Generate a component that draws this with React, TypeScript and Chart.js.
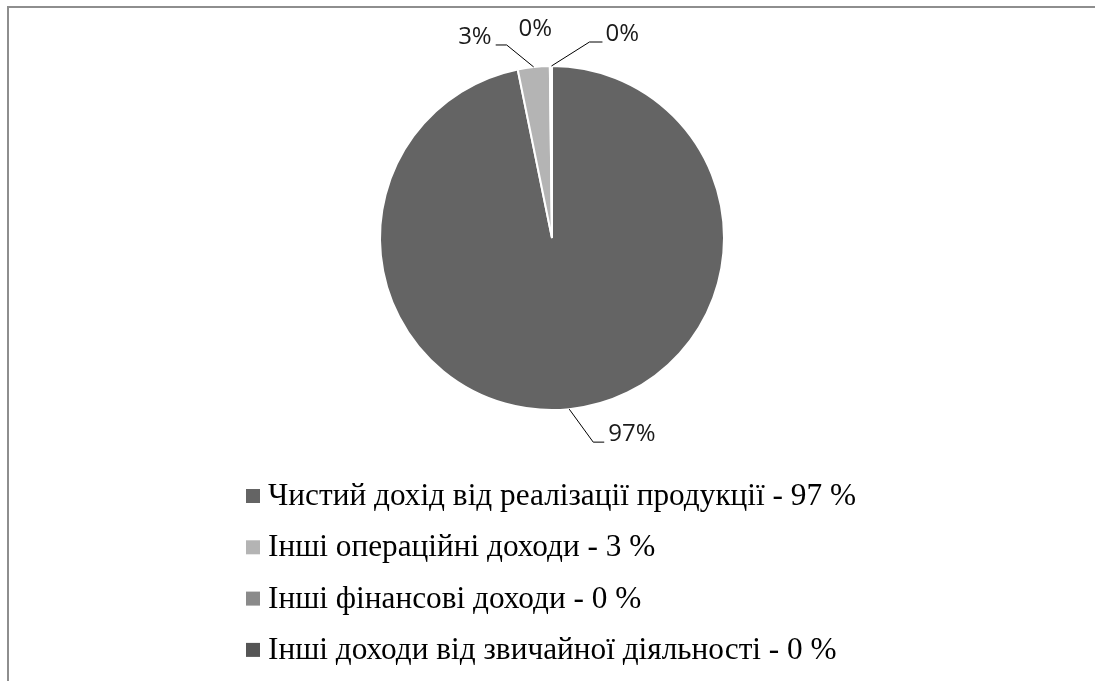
import React, { useEffect, useRef } from "react";
import { Chart, registerables } from "chart.js";

Chart.register(...registerables);

const categories = [
  "Чистий дохід від реалізації продукції",
  "Інші операційні доходи",
  "Інші фінансові доходи",
  "Інші доходи від звичайної діяльності",
];
const shareValues = [97, 3, 0.1, 0.1];
const shareLabels = ["97%", "3%", "0%", "0%"];
const legendPercents = ["97 %", "3 %", "0 %", "0 %"];
const sliceColors = ["#646464", "#b4b4b4", "#8a8a8a", "#555555"];

// label placement relative to the slice's outer edge point (style only)
type LabelStyle = { elbow: [number, number] | null; tail: number; text: [number, number]; align: CanvasTextAlign };
const labelStyles: LabelStyle[] = [
  { elbow: [24, 33], tail: 11, text: [39, 25], align: "left" },
  { elbow: [-27, -22], tail: -11, text: [-42, -30], align: "right" },
  { elbow: null, tail: 0, text: [-15, -37], align: "center" },
  { elbow: [38, -24], tail: 13, text: [54, -32], align: "left" },
];

const leaderPlugin = {
  id: "leaderLabels",
  afterDraw(chart: any) {
    const ctx = chart.ctx as CanvasRenderingContext2D;
    const meta = chart.getDatasetMeta(0);
    ctx.save();
    meta.data.forEach((arc: any, i: number) => {
      const { x, y, startAngle, endAngle, outerRadius } = arc.getProps(
        ["x", "y", "startAngle", "endAngle", "outerRadius"],
        true
      );
      const mid = (startAngle + endAngle) / 2;
      const ax = x + Math.cos(mid) * outerRadius;
      const ay = y + Math.sin(mid) * outerRadius;
      const st = labelStyles[i];
      if (st.elbow) {
        const ex = ax + st.elbow[0];
        const ey = ay + st.elbow[1];
        ctx.beginPath();
        ctx.strokeStyle = "#000";
        ctx.lineWidth = 1;
        ctx.moveTo(ax, ay);
        ctx.lineTo(ex, ey);
        ctx.lineTo(ex + st.tail, ey);
        ctx.stroke();
      }
      ctx.fillStyle = "#1a1a1a";
      ctx.font = '24px "Open Sans"';
      ctx.textAlign = st.align;
      ctx.textBaseline = "middle";
      ctx.fillText(shareLabels[i], ax + st.text[0], ay + st.text[1]);
    });

    // legend
    const boxX = 238;
    const firstY = 489;
    const rowGap = 51.3;
    ctx.font = '31.3px "Liberation Serif"';
    ctx.textAlign = "left";
    ctx.textBaseline = "alphabetic";
    categories.forEach((name, i) => {
      const cy = firstY + i * rowGap;
      ctx.fillStyle = sliceColors[i];
      ctx.fillRect(boxX, cy - 8, 14, 14);
      ctx.fillStyle = "#000";
      ctx.fillText(`${name} - ${legendPercents[i]}`, boxX + 22, cy + 8);
    });
    ctx.restore();
  },
};

export default function App() {
  const canvasRef = useRef<HTMLCanvasElement | null>(null);

  useEffect(() => {
    document.documentElement.style.overflow = "hidden";
    if (!canvasRef.current) return;
    const chart = new Chart(canvasRef.current, {
      type: "pie",
      data: {
        labels: categories,
        datasets: [
          {
            data: shareValues,
            backgroundColor: sliceColors,
            borderColor: "#ffffff",
            borderWidth: 2,
          },
        ],
      },
      options: {
        responsive: true,
        maintainAspectRatio: false,
        animation: false,
        layout: { padding: { top: 57, bottom: 270, left: 1, right: 0 } },
        plugins: {
          legend: { display: false },
          tooltip: { enabled: false },
        },
      },
      plugins: [leaderPlugin],
    });
    return () => chart.destroy();
  }, []);

  return (
    <div>
      <div style={{ width: 1087, height: 673, position: "relative" }}>
        <canvas ref={canvasRef} />
      </div>
      <div style={{ position: "fixed", top: 6, left: 7, right: 0, height: 2, background: "#8e8e8e" }} />
      <div style={{ position: "fixed", top: 6, left: 7, bottom: 0, width: 2, background: "#8e8e8e" }} />
    </div>
  );
}
